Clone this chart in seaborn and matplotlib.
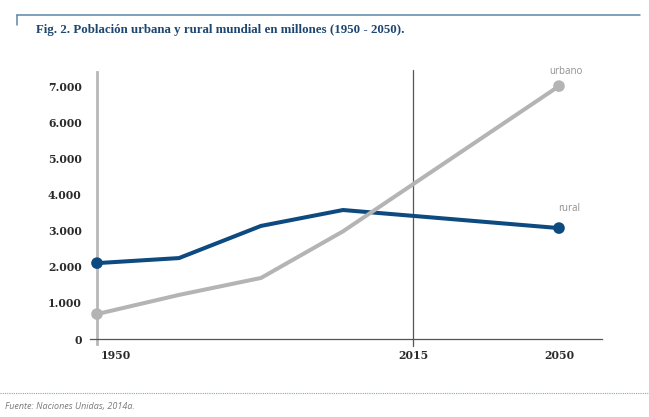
import numpy as np
import pandas as pd
import matplotlib
matplotlib.use("Agg")
import matplotlib.pyplot as plt
import matplotlib.transforms as mtransforms
from matplotlib.lines import Line2D
import seaborn as sns

# ---- data (millions) ----
years = [1950, 1970, 1990, 2010, 2050]
rural = [2100, 2240, 3130, 3570, 3070]
urbano = [690, 1220, 1690, 2980, 7000]
y_ticks = [0, 1000, 2000, 3000, 4000, 5000, 6000, 7000]
y_tick_labels = ["0", "1.000", "2.000", "3.000", "4.000", "5.000", "6.000", "7.000"]
x_ticks = [1950, 2015, 2050]
x_tick_labels = ["1950", "2015", "2050"]
title = "Fig. 2. Población urbana y rural mundial en millones (1950 - 2050)."
source = "Fuente: Naciones Unidas, 2014a."

df = pd.DataFrame({
    "año": years * 2,
    "población": rural + urbano,
    "serie": ["rural"] * len(years) + ["urbano"] * len(years),
})

# piecewise time scale as drawn in the original figure
knot_years = [1900, 2010, 2015, 2050, 2100]
knot_pos = [-205.0, 246.0, 316.0, 462.0, 670.5]
def fwd(x):
    return np.interp(x, knot_years, knot_pos)
def inv(p):
    return np.interp(p, knot_pos, knot_years)

sns.set_theme(style="white")
plt.rcParams["font.family"] = ["DejaVu Sans"]

W, H = 649, 417
fig = plt.figure(figsize=(W / 100, H / 100), dpi=100)
ax = fig.add_axes([90 / W, 1 - 339 / H, (602 - 90) / W, (339 - 72) / H])
ax.set_xscale("function", functions=(fwd, inv))

c_rural = "#0d4a80"
c_urb = "#b4b4b4"
pal = {"rural": c_rural, "urbano": c_urb}

sns.lineplot(data=df, x="año", y="población", hue="serie", palette=pal,
             linewidth=2.9, ax=ax, legend=False, zorder=3)
ends = df[df["año"].isin([years[0], years[-1]])]
sns.scatterplot(data=ends, x="año", y="población", hue="serie", palette=pal,
                s=70, edgecolor="none", ax=ax, legend=False, zorder=4)

ax.set_xlim(inv(-7), inv(505))
ax.set_ylim(0, 7390)

# vertical marker at 2015
ax.axvline(2015, ymin=-0.025, ymax=1.007, color="#555555", lw=0.9,
           clip_on=False, zorder=2)

# spines
for s in ["top", "right"]:
    ax.spines[s].set_visible(False)
ax.spines["left"].set_position(("data", 1950))
ax.spines["left"].set_color("#b8b8b8")
ax.spines["left"].set_linewidth(2.0)
ax.spines["left"].set_zorder(1)
ax.spines["bottom"].set_color("#555555")
ax.spines["bottom"].set_linewidth(0.9)
ax.spines["left"].set_bounds(-150, 7390)

ax.set_yticks(y_ticks)
ax.set_yticklabels(y_tick_labels)
ax.set_xticks(x_ticks)
ax.set_xticklabels(x_tick_labels)
ax.set_xlabel("")
ax.set_ylabel("")
ax.tick_params(axis="both", length=0)
ax.tick_params(axis="y", pad=11)
ax.tick_params(axis="x", pad=8)
for lab in ax.get_yticklabels() + ax.get_xticklabels():
    lab.set_fontfamily("DejaVu Serif")
    lab.set_fontweight("bold")
    lab.set_fontsize(7.8)
    lab.set_color("#2a2a2a")
first = ax.get_xticklabels()[0]
first.set_transform(first.get_transform() +
                    mtransforms.ScaledTranslation(0.19, 0, fig.dpi_scale_trans))

# series labels
ax.annotate("urbano", xy=(2050, urbano[-1]), xytext=(5, 6.5), textcoords="offset points",
            ha="center", va="bottom", fontsize=7, color="#8f8f8f",
            family="Open Sans")
ax.annotate("rural", xy=(2050, rural[-1]), xytext=(7, 10), textcoords="offset points",
            ha="center", va="bottom", fontsize=7, color="#8f8f8f",
            family="Open Sans")

# top frame and title
fig.add_artist(Line2D([17 / W, 640 / W], [1 - 15 / H, 1 - 15 / H],
                      color="#5b86a8", lw=1.1))
fig.add_artist(Line2D([17 / W, 17 / W], [1 - 15 / H, 1 - 25 / H],
                      color="#5b86a8", lw=1.1))
fig.text(36 / W, 1 - 30 / H, title, fontsize=9.3, fontweight="bold",
         family="Liberation Serif", color="#1d4670", va="center", ha="left")

# bottom dotted rule and source
fig.add_artist(Line2D([0, 1], [1 - 393 / H, 1 - 393 / H],
                      color="#7fa9c4", lw=0.8, ls=(0, (1, 1))))
fig.text(5 / W, 1 - 406 / H, source, fontsize=6.5, style="italic",
         family="Open Sans", color="#7a7a7a", va="center", ha="left")

fig.savefig("out.png", dpi=100)
